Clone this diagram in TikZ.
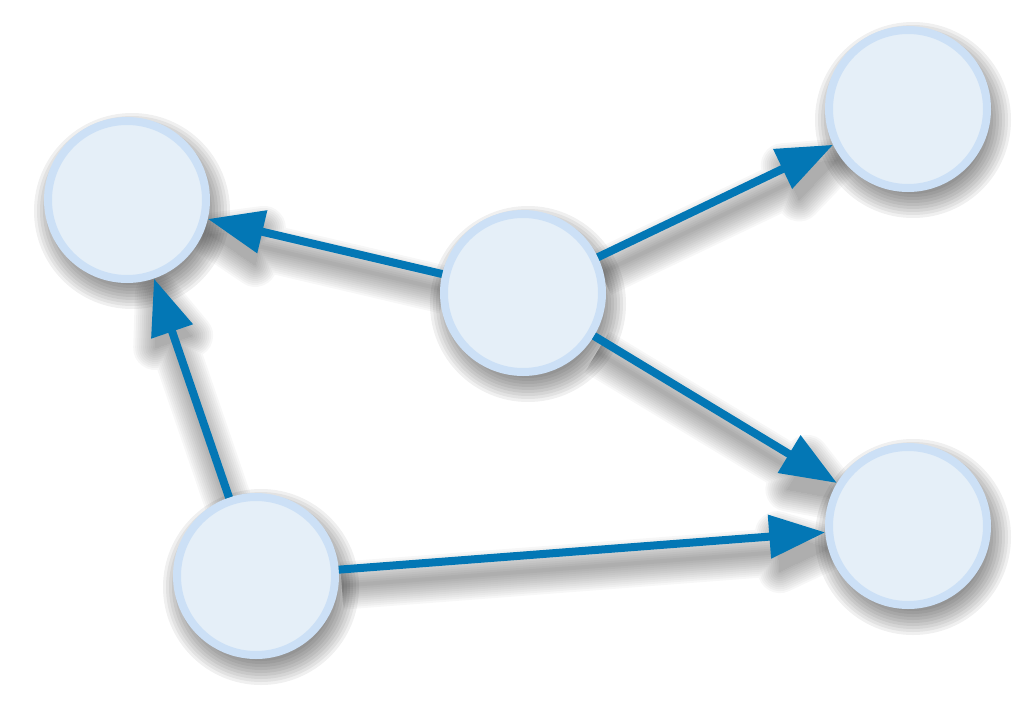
\documentclass[tikz,border=0pt]{standalone}
\usetikzlibrary{arrows.meta,calc}
\definecolor{nodefill}{HTML}{E5EFF8}
\definecolor{nodeborder}{HTML}{CCE0F6}
\definecolor{arrowblue}{HTML}{0377B5}
\pgfdeclarelayer{bg}
\pgfsetlayers{bg,main}
\tikzset{
  vertex/.style={circle, minimum size=158pt, inner sep=0pt, line width=8pt, draw=nodeborder, fill=nodefill},
  edge/.style={draw=arrowblue, line width=8pt, -{Triangle[length=56pt,width=42pt]}},
  circshadow/.style={transparency group, opacity=0.06},
  lineshadow/.style={transparency group, opacity=0.03},
}
\begin{document}
\begin{tikzpicture}[x=1pt,y=-1pt]
\useasboundingbox (0,0) rectangle (1033,720);
\node[vertex] (a) at (127,200) {};
\node[vertex] (b) at (523,293) {};
\node[vertex] (c) at (908,109) {};
\node[vertex] (d) at (908,526) {};
\node[vertex] (e) at (256,576) {};

\foreach \s/\t in {b/a,b/c,b/d,e/a,e/d} {
  \coordinate (S\s\t) at ($(\s.center)!83pt!(\t.center)+(3,16)$);
  \coordinate (T\s\t) at ($(\t.center)!83pt!(\s.center)+(3,16)$);
  \coordinate (M\s\t) at ($(T\s\t)!50pt!(S\s\t)$);
  \coordinate (L\s\t) at ($(M\s\t)!19pt!90:(T\s\t)$);
  \coordinate (R\s\t) at ($(M\s\t)!19pt!-90:(T\s\t)$);
}

\begin{pgfonlayer}{bg}
\foreach \k in {1,...,12} {
  \begin{scope}[circshadow]
    \foreach \p in {a,b,c,d,e}
      \fill[black] ($(\p.center)+(5,11)$) circle[radius={101-3*\k}];
  \end{scope}
  \begin{scope}[lineshadow]
    \foreach \s/\t in {b/a,b/c,b/d,e/a,e/d} {
      \draw[black, line width={4*\k}] (S\s\t) -- (M\s\t);
      \filldraw[black, line width={4*\k-4}, line join=round] (T\s\t) -- (L\s\t) -- (R\s\t) -- cycle;
    }
  \end{scope}
}
\end{pgfonlayer}

\draw[edge] (b) -- (a);
\draw[edge] (b) -- (c);
\draw[edge] (b) -- (d);
\draw[edge] (e) -- (a);
\draw[edge] (e) -- (d);
\end{tikzpicture}
\end{document}
